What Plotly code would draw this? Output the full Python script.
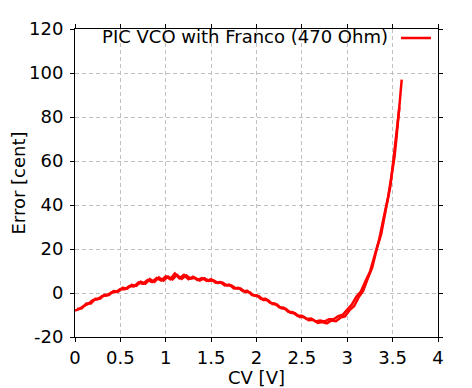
import plotly.graph_objects as go

# Up sweep (CV in volts, error in cents)
cv_up = [0.00, 0.05, 0.10, 0.15, 0.20, 0.25, 0.30, 0.35, 0.40, 0.45,
         0.50, 0.55, 0.60, 0.65, 0.70, 0.75, 0.80, 0.85, 0.90, 0.95,
         1.00, 1.05, 1.10, 1.15, 1.20, 1.25, 1.30, 1.35, 1.40, 1.45,
         1.50, 1.55, 1.60, 1.65, 1.70, 1.75, 1.80, 1.85, 1.90, 1.95,
         2.00, 2.05, 2.10, 2.15, 2.20, 2.25, 2.30, 2.35, 2.40, 2.45,
         2.50, 2.55, 2.60, 2.65, 2.70, 2.75, 2.80, 2.85, 2.90, 2.95,
         3.00, 3.05, 3.10, 3.15, 3.20, 3.25, 3.30, 3.35, 3.40, 3.45,
         3.50, 3.52, 3.54, 3.56, 3.58, 3.60]
err_up = [-8.0, -7.2, -5.8, -4.8, -3.2, -2.9, -1.4, -1.2, 0.2, 0.4,
          1.8, 1.7, 3.2, 3.0, 4.8, 4.2, 5.9, 5.0, 6.8, 5.7,
          7.6, 6.2, 8.9, 6.7, 8.2, 6.3, 7.4, 5.9, 6.8, 5.5,
          6.3, 4.7, 5.0, 3.4, 3.8, 2.1, 2.4, 0.8, 1.0, -0.9,
          -1.0, -2.7, -2.6, -4.5, -4.7, -6.5, -6.7, -8.5, -8.7, -10.3,
          -10.3, -11.8, -11.6, -12.9, -12.5, -12.9, -11.9, -11.9, -10.5, -9.9,
          -7.5, -5.3, -1.7, 0.7, 5.3, 9.6, 16.8, 24.0, 34.0, 43.5,
          56.5, 61.5, 69.5, 77.5, 87.5, 97.0]

# Return sweep
cv_down = [3.575, 3.525, 3.475, 3.425, 3.375, 3.325, 3.275, 3.225, 3.175, 3.125,
           3.075, 3.025, 2.975, 2.925, 2.875, 2.825, 2.775, 2.725, 2.675, 2.625,
           2.575, 2.525, 2.475, 2.425, 2.375, 2.325, 2.275, 2.225, 2.175, 2.125,
           2.075, 2.025, 1.975, 1.925, 1.875, 1.825, 1.775, 1.725, 1.675, 1.625,
           1.575, 1.525, 1.475, 1.425, 1.375, 1.325, 1.275, 1.225, 1.175, 1.125,
           1.075, 1.025, 0.975, 0.925, 0.875, 0.825, 0.775, 0.725, 0.675, 0.625,
           0.575, 0.525, 0.475, 0.425, 0.375, 0.325, 0.275, 0.225, 0.175, 0.125,
           0.075, 0.025]
err_down = [84.5, 65.0, 48.5, 38.0, 27.0, 20.0, 11.5, 6.5, 1.0, -2.0,
            -6.0, -7.8, -10.6, -11.2, -12.8, -12.5, -13.8, -13.2, -13.6, -12.2,
            -12.4, -10.9, -10.9, -9.2, -9.0, -7.2, -7.0, -5.2, -5.0, -3.2,
            -3.2, -1.4, -1.3, 0.4, 0.5, 2.0, 2.0, 3.4, 3.4, 4.8,
            4.6, 5.8, 5.5, 6.7, 5.6, 6.9, 6.5, 8.0, 6.4, 8.2,
            6.2, 7.5, 5.6, 7.1, 5.0, 6.3, 4.2, 5.1, 3.2, 3.7,
            2.0, 2.4, 0.6, 0.9, -0.9, -0.8, -2.6, -2.6, -4.8, -4.8,
            -7.0, -7.2]

x_ticks = [0, 0.5, 1, 1.5, 2, 2.5, 3, 3.5, 4]
x_tick_labels = ["0", "0.5", "1", "1.5", "2", "2.5", "3", "3.5", "4"]
y_ticks = [-20, 0, 20, 40, 60, 80, 100, 120]
y_tick_labels = ["-20", "0", "20", "40", "60", "80", "100", "120"]

legend_text = "PIC VCO with Franco (470 Ohm)"

cv_all = cv_up + [None] + cv_down
err_all = err_up + [None] + err_down

fig = go.Figure()
fig.add_trace(go.Scatter(
    x=cv_all, y=err_all, mode="lines", name=" ",
    line=dict(color="#ff0000", width=2.5),
    connectgaps=False,
))

font_family = "DejaVu Sans"
fs = 18
axis_common = dict(
    showline=True, linecolor="black", linewidth=1, mirror="ticks",
    ticks="outside", ticklen=4, tickcolor="black", tickwidth=1,
    showgrid=True, gridcolor="#c0c0c0", gridwidth=1, griddash="4px,3px",
    zeroline=False, automargin=False,
    tickfont=dict(family=font_family, size=fs, color="black"),
)

# The page body has an 8px margin, so the figure is sized to fit the window.
fig.update_layout(
    width=464, height=380,
    margin=dict(l=67, r=34, t=15, b=51),
    paper_bgcolor="white", plot_bgcolor="white",
    font=dict(family=font_family, size=fs, color="black"),
    xaxis=dict(range=[0, 4], tickvals=x_ticks, ticktext=x_tick_labels,
               title=dict(text="CV [V]", standoff=0,
                          font=dict(family=font_family, size=fs, color="black")),
               **axis_common),
    yaxis=dict(range=[-20, 120], tickvals=y_ticks, ticktext=y_tick_labels,
               ticklabelstandoff=3,
               title=dict(text="Error [cent]", standoff=8,
                          font=dict(family=font_family, size=fs, color="black")),
               **axis_common),
    showlegend=True,
    legend=dict(
        title=dict(text=legend_text, side="left",
                   font=dict(family=font_family, size=fs, color="black")),
        x=1.025, xanchor="right", y=1.03, yanchor="top",
        bgcolor="rgba(0,0,0,0)", borderwidth=0,
        font=dict(family=font_family, size=fs, color="black"),
        itemwidth=30,
    ),
)

fig.write_html("out.html")
